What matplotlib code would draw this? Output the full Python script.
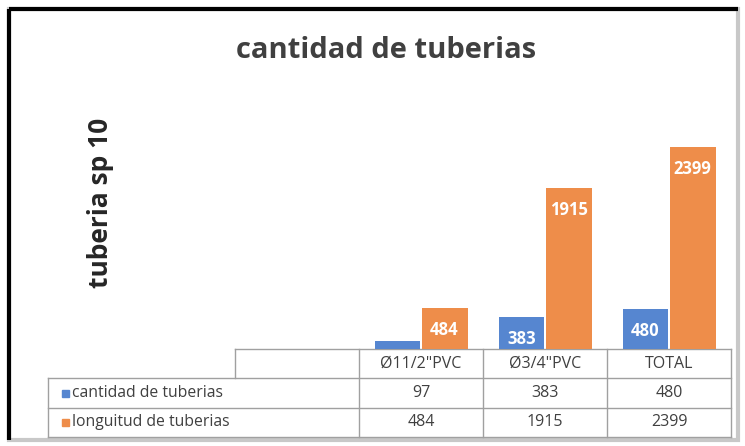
import matplotlib.pyplot as plt
from matplotlib.patches import Rectangle
import numpy as np

categorias = ['Ø11/2"PVC', 'Ø3/4"PVC', "TOTAL"]
series = ["cantidad de tuberias", "longuitud de tuberias"]
cantidad = [97, 383, 480]
longitud = [484, 1915, 2399]

AZUL, NARANJA = "#5686D0", "#EE8D4A"
TEXTO = "#404040"
LINEA = "#A0A0A0"
FUENTE = ["Open Sans", "DejaVu Sans"]

W, H = 745, 446
fig = plt.figure(figsize=(W / 100, H / 100), dpi=100)

# ejes de las barras (coordenadas en px del original)
x0, x1, ybase, ytop = 235, 731, 349, 96
ax = fig.add_axes([x0 / W, 1 - ybase / H, (x1 - x0) / W, (ybase - ytop) / H])
n = len(categorias)
ax.set_xlim(-1.5, n - 0.5)  # columna vacía a la izquierda de la tabla
ax.set_ylim(0, 3000)
ax.axis("off")
x = np.arange(n)
ancho = 0.37
b1 = ax.bar(x - ancho / 2 - 0.005, cantidad, ancho, color=AZUL)
b2 = ax.bar(x + ancho / 2 + 0.005, longitud, ancho, color=NARANJA)
px_por_unidad = (ybase - ytop) / 3000
for barras, vals in ((b1, cantidad), (b2, longitud)):
    for b, v in zip(barras, vals):
        if v * px_por_unidad < 25:
            continue  # en el original la etiqueta de 97 no se ve
        ax.annotate(f"{v}", (b.get_x() + b.get_width() / 2, v),
                    xytext=(0, -22), textcoords="offset pixels",
                    ha="center", va="center", color="white", fontweight="bold",
                    fontsize=12, family=FUENTE)

# capa general en px para marco, títulos y tabla
ov = fig.add_axes([0, 0, 1, 1], zorder=-1)
ov.set_xlim(0, W)
ov.set_ylim(H, 0)
ov.axis("off")

# marco
ov.add_patch(Rectangle((9, 9), 729, 431, fill=False, ec="#C8C8C8", lw=3))
ov.plot([9, 9], [9, 440], color="black", lw=3, solid_capstyle="butt")
ov.plot([9, 738], [9, 9], color="black", lw=3, solid_capstyle="butt")

ov.text(386, 50, "cantidad de tuberias", ha="center", va="center",
        fontsize=21, fontweight="bold", color=TEXTO, family=FUENTE)
ov.text(100, 203, "tuberia sp 10", ha="center", va="center", rotation=90,
        fontsize=19, fontweight="bold", color="#262626", family=FUENTE)

# tabla de datos
col_w = (x1 - x0) / (n + 1)
cols = [x0 + col_w * (i + 1) for i in range(n + 1)]
filas_y = [ybase, 378, 408, 437]
izq = 48
kw = dict(color=LINEA, lw=1)
ov.plot([x0, x1], [filas_y[0]] * 2, **kw)
for yy in filas_y[1:]:
    ov.plot([izq, x1], [yy] * 2, **kw)
ov.plot([x0, x0], [filas_y[0], filas_y[1]], **kw)
ov.plot([izq, izq], [filas_y[1], filas_y[3]], **kw)
for cx in cols:
    ov.plot([cx, cx], [filas_y[0], filas_y[3]], **kw)

tkw = dict(ha="center", va="center", fontsize=11.5, color=TEXTO, family=FUENTE)
for i, c in enumerate(categorias):
    cx = cols[i] + col_w / 2
    ov.text(cx, (filas_y[0] + filas_y[1]) / 2, c, **tkw)
    ov.text(cx, (filas_y[1] + filas_y[2]) / 2, str(cantidad[i]), **tkw)
    ov.text(cx, (filas_y[2] + filas_y[3]) / 2, str(longitud[i]), **tkw)
for j, (nombre, color) in enumerate(zip(series, (AZUL, NARANJA))):
    yc = (filas_y[j + 1] + filas_y[j + 2]) / 2
    ov.add_patch(Rectangle((62, yc - 3.5), 7, 7, color=color))
    ov.text(72, yc, nombre, ha="left", va="center", fontsize=11.3,
            color=TEXTO, family=FUENTE)

fig.savefig("out.png", dpi=100)
